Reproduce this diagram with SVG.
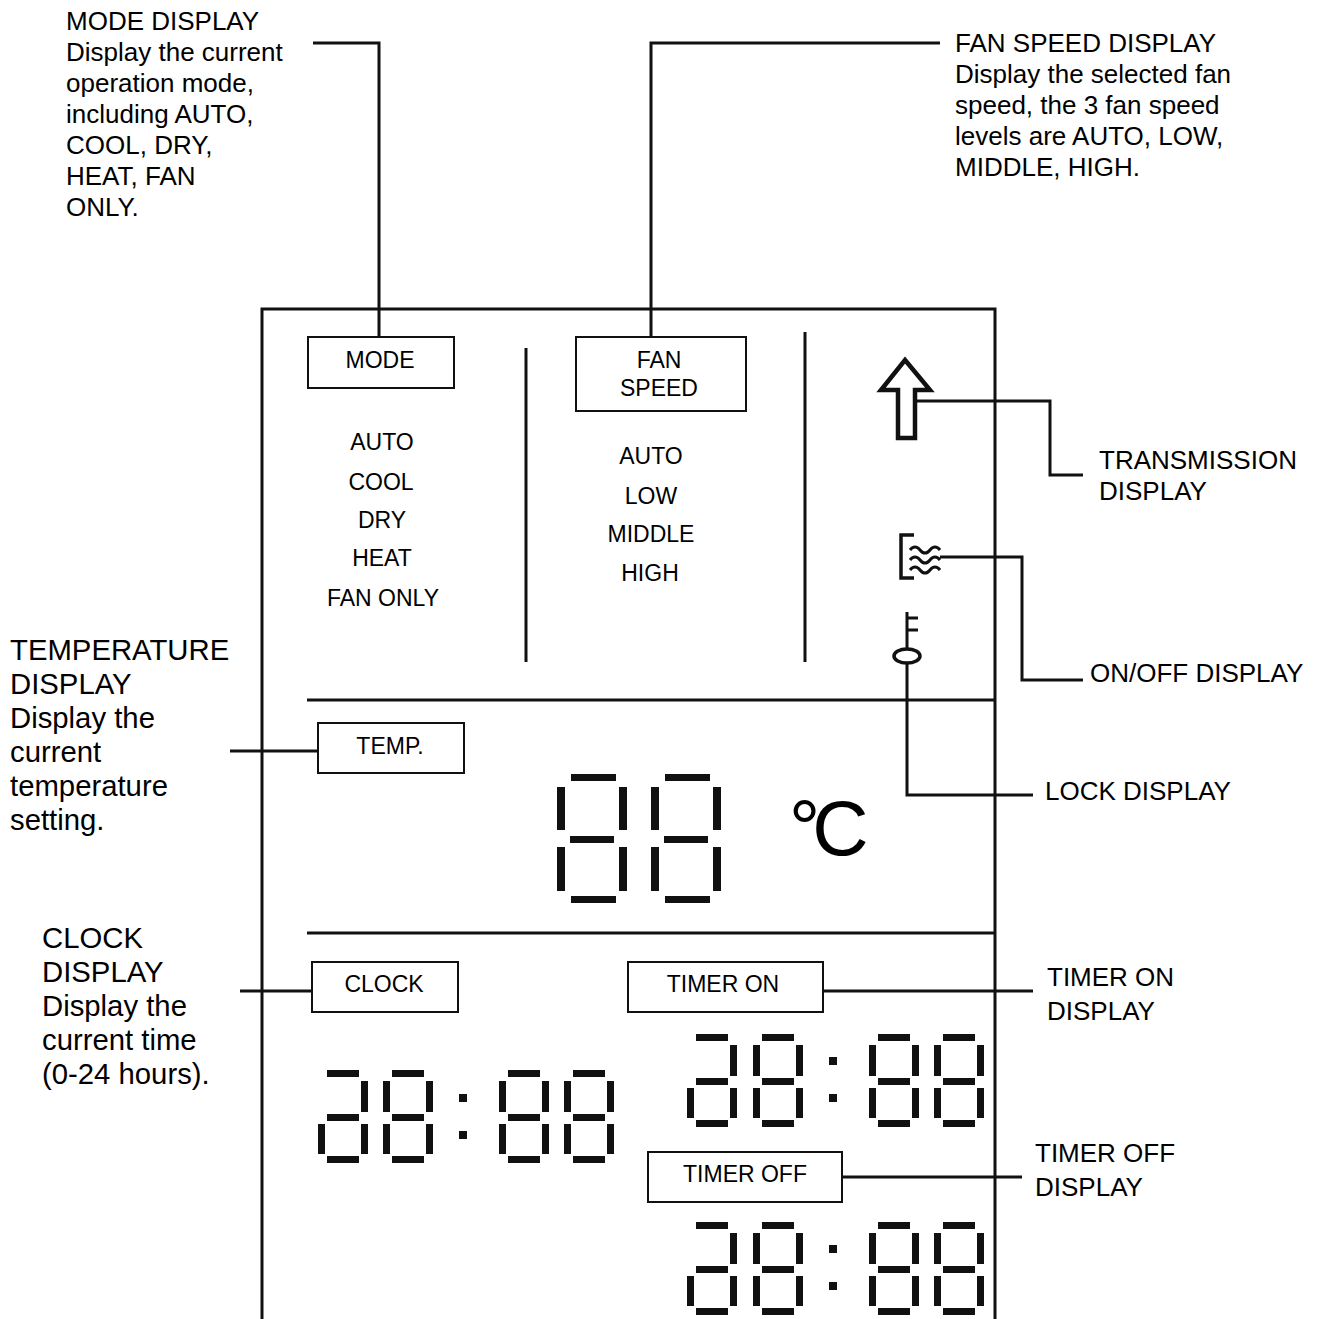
<svg xmlns="http://www.w3.org/2000/svg" xmlns:xlink="http://www.w3.org/1999/xlink" width="1322" height="1319" viewBox="0 0 1322 1319">
<style>
.t{font-family:"Liberation Sans",Arial,sans-serif;fill:#000}
.lbl{font-size:26px}
.big{font-size:29.3px}
.in{font-size:23px;text-anchor:middle}
.ln{fill:none;stroke:#111;stroke-width:3}
.box{fill:#fff;stroke:#111;stroke-width:2}
.seg{fill:#111}
</style>
<defs>
<g id="d8">
<rect class="seg" x="9" y="0" width="32" height="7"/>
<rect class="seg" x="0" y="11" width="7" height="31"/>
<rect class="seg" x="43" y="11" width="7" height="31"/>
<rect class="seg" x="9" y="44" width="32" height="7"/>
<rect class="seg" x="0" y="54" width="7" height="30"/>
<rect class="seg" x="43" y="54" width="7" height="30"/>
<rect class="seg" x="9" y="86" width="32" height="7"/>
</g>
<g id="da">
<rect class="seg" x="9" y="0" width="32" height="7"/>
<rect class="seg" x="43" y="11" width="7" height="31"/>
<rect class="seg" x="9" y="44" width="32" height="7"/>
<rect class="seg" x="0" y="54" width="7" height="30"/>
<rect class="seg" x="43" y="54" width="7" height="30"/>
<rect class="seg" x="9" y="86" width="32" height="7"/>
</g>
<g id="colon">
<rect class="seg" x="0" y="0" width="8" height="8"/>
<rect class="seg" x="0" y="37" width="8" height="8"/>
</g>
<g id="dL">
<rect class="seg" x="14" y="0" width="45" height="7"/>
<rect class="seg" x="0" y="13" width="8" height="43"/>
<rect class="seg" x="62" y="13" width="8" height="43"/>
<rect class="seg" x="13" y="62" width="44" height="7"/>
<rect class="seg" x="0" y="73" width="8" height="44"/>
<rect class="seg" x="62" y="73" width="8" height="44"/>
<rect class="seg" x="14" y="122" width="45" height="7"/>
</g>
</defs>
<rect width="1322" height="1319" fill="#fff"/>

<g id="panel">
<path class="ln" d="M262 1319 V309 H995 V1319"/>
<path class="ln" d="M526 348 V662"/>
<path class="ln" d="M805 332 V662"/>
<path class="ln" d="M307 700 H995"/>
<path class="ln" d="M307 933 H995"/>
</g>

<g id="connectors">
<path class="ln" d="M379 337 V43 H313"/>
<path class="ln" d="M651 337 V43 H940"/>
<path class="ln" d="M917 401 H1050 V475 H1083"/>
<path class="ln" d="M940 557 H1022 V680 H1083"/>
<path class="ln" d="M907 663 V795 H1033"/>
<path class="ln" d="M230 751 H318"/>
<path class="ln" d="M240 991 H312"/>
<path class="ln" d="M823 991 H1033"/>
<path class="ln" d="M842 1177 H1022"/>
</g>

<g id="mode-display">
<text class="t lbl" x="66" y="30">MODE DISPLAY</text>
<text class="t lbl" x="66" y="61">Display the current</text>
<text class="t lbl" x="66" y="92">operation mode,</text>
<text class="t lbl" x="66" y="123">including AUTO,</text>
<text class="t lbl" x="66" y="154">COOL, DRY,</text>
<text class="t lbl" x="66" y="185">HEAT, FAN</text>
<text class="t lbl" x="66" y="216">ONLY.</text>
</g>

<g id="fan-speed-display">
<text class="t lbl" x="955" y="52">FAN SPEED DISPLAY</text>
<text class="t lbl" x="955" y="83">Display the selected fan</text>
<text class="t lbl" x="955" y="114">speed, the 3 fan speed</text>
<text class="t lbl" x="955" y="145">levels are AUTO, LOW,</text>
<text class="t lbl" x="955" y="176">MIDDLE, HIGH.</text>
</g>

<g id="mode-box">
<rect class="box" x="308" y="337" width="146" height="51"/>
<text class="t in" x="380" y="368">MODE</text>
</g>

<g id="mode-list">
<text class="t in" x="382" y="450">AUTO</text>
<text class="t in" x="381" y="490">COOL</text>
<text class="t in" x="382" y="528">DRY</text>
<text class="t in" x="382" y="566">HEAT</text>
<text class="t in" x="383" y="606">FAN ONLY</text>
</g>

<g id="fan-box">
<rect class="box" x="576" y="337" width="170" height="74"/>
<text class="t in" x="659" y="368">FAN</text>
<text class="t in" x="659" y="396">SPEED</text>
</g>

<g id="fan-list">
<text class="t in" x="651" y="464">AUTO</text>
<text class="t in" x="651" y="504">LOW</text>
<text class="t in" x="651" y="542">MIDDLE</text>
<text class="t in" x="650" y="581">HIGH</text>
</g>

<g id="transmission-icon">
<path d="M905 360 L930 390 H915 V438 H898 V390 H881 Z" fill="#fff" stroke="#111" stroke-width="4.5" stroke-linejoin="miter"/>
</g>
<g id="transmission-display">
<text class="t lbl" x="1099" y="469">TRANSMISSION</text>
<text class="t lbl" x="1099" y="500">DISPLAY</text>
</g>

<g id="onoff-icon">
<path d="M914 535 H901 V578 H914" fill="none" stroke="#111" stroke-width="3.5"/>
<path class="ln" d="M910 550 c3 -4 7 -4 10 0 s7 4 10 0 s7 -4 10 0"/>
<path class="ln" d="M910 560 c3 -4 7 -4 10 0 s7 4 10 0 s7 -4 10 0"/>
<path class="ln" d="M910 570 c3 -4 7 -4 10 0 s7 4 10 0 s7 -4 10 0"/>
</g>
<g id="onoff-display">
<text class="t lbl" x="1090" y="682">ON/OFF DISPLAY</text>
</g>

<g id="lock-icon">
<path class="ln" d="M907 612 V649"/>
<path class="ln" d="M907 618 H918 M907 630 H918"/>
<ellipse cx="907" cy="656" rx="13" ry="7" fill="#fff" stroke="#111" stroke-width="3.5"/>
</g>
<g id="lock-display">
<text class="t lbl" x="1045" y="800">LOCK DISPLAY</text>
</g>

<g id="temperature-display">
<text class="t big" x="10" y="660">TEMPERATURE</text>
<text class="t big" x="10" y="694">DISPLAY</text>
<text class="t big" x="10" y="728">Display the</text>
<text class="t big" x="10" y="762">current</text>
<text class="t big" x="10" y="796">temperature</text>
<text class="t big" x="10" y="830">setting.</text>
</g>

<g id="temp-box">
<rect class="box" x="318" y="723" width="146" height="50"/>
<text class="t in" x="390" y="754">TEMP.</text>
</g>

<g id="temp-digits">
<use xlink:href="#dL" x="557" y="774"/>
<use xlink:href="#dL" x="651" y="774"/>
<text class="t" x="789" y="855" font-size="78" letter-spacing="-8">°C</text>
</g>

<g id="clock-display">
<text class="t big" x="42" y="948">CLOCK</text>
<text class="t big" x="42" y="982">DISPLAY</text>
<text class="t big" x="42" y="1016">Display the</text>
<text class="t big" x="42" y="1050">current time</text>
<text class="t big" x="42" y="1084">(0-24 hours).</text>
</g>

<g id="clock-box">
<rect class="box" x="312" y="962" width="146" height="50"/>
<text class="t in" x="384" y="992">CLOCK</text>
</g>

<g id="clock-digits">
<use xlink:href="#da" x="318" y="1070"/>
<use xlink:href="#d8" x="383" y="1070"/>
<use xlink:href="#colon" x="459" y="1094"/>
<use xlink:href="#d8" x="499" y="1070"/>
<use xlink:href="#d8" x="564" y="1070"/>
</g>

<g id="timer-on-box">
<rect class="box" x="628" y="962" width="195" height="50"/>
<text class="t in" x="723" y="992">TIMER ON</text>
</g>
<g id="timer-on-display">
<text class="t lbl" x="1047" y="986">TIMER ON</text>
<text class="t lbl" x="1047" y="1020">DISPLAY</text>
</g>

<g id="timer-on-digits">
<use xlink:href="#da" x="687" y="1034"/>
<use xlink:href="#d8" x="753" y="1034"/>
<use xlink:href="#colon" x="829" y="1057"/>
<use xlink:href="#d8" x="869" y="1034"/>
<use xlink:href="#d8" x="934" y="1034"/>
</g>

<g id="timer-off-box">
<rect class="box" x="648" y="1152" width="194" height="50"/>
<text class="t in" x="745" y="1182">TIMER OFF</text>
</g>
<g id="timer-off-display">
<text class="t lbl" x="1035" y="1162">TIMER OFF</text>
<text class="t lbl" x="1035" y="1196">DISPLAY</text>
</g>

<g id="timer-off-digits">
<use xlink:href="#da" x="687" y="1222"/>
<use xlink:href="#d8" x="753" y="1222"/>
<use xlink:href="#colon" x="829" y="1245"/>
<use xlink:href="#d8" x="869" y="1222"/>
<use xlink:href="#d8" x="934" y="1222"/>
</g>
</svg>
